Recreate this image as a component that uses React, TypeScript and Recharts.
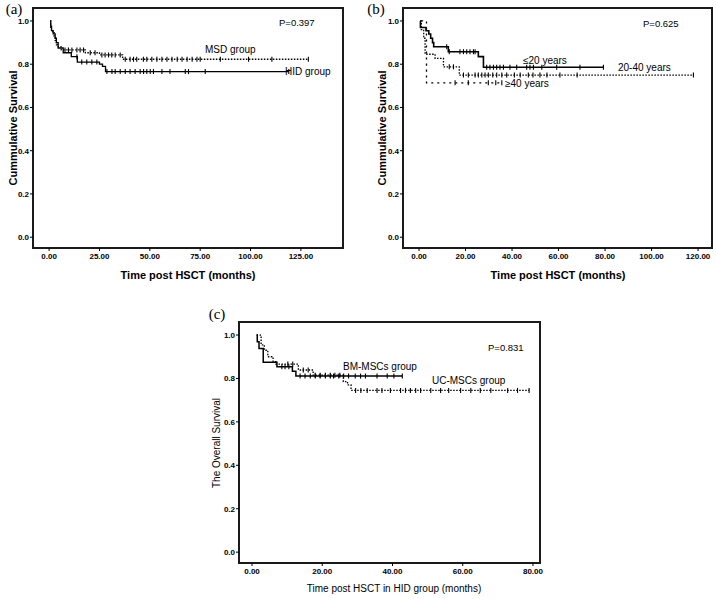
import React from "react"
import { LineChart, Line, XAxis, YAxis, ReferenceArea } from "recharts"

// (a) MSD vs HID
const msdTimes = [0.5, 0.8, 1.2, 1.8, 2.5, 3.0, 3.6, 4.5, 6.0, 18, 25, 36.5]
const msdSurv = [1.0, 0.98, 0.96, 0.95, 0.93, 0.91, 0.89, 0.88, 0.866, 0.853, 0.843, 0.823]
const msdCensor = [7.9, 9.6, 11.3, 13.8, 15.4, 17.1, 20.4, 22.8, 26.2, 27.8, 29.5, 31.1, 32.8, 35.3, 37.8, 40.2, 41.9, 43.5, 46.8, 48.5, 51, 53.5, 56, 58.5, 61, 63.6, 66, 68.5, 71, 73.4, 75, 85, 99, 110.6, 128.7]
const hidTimes = [0.5, 0.8, 1.2, 2.0, 3.0, 3.6, 4.5, 7, 11, 14, 25, 26.5, 28]
const hidSurv = [1.0, 0.97, 0.955, 0.94, 0.92, 0.9, 0.875, 0.853, 0.835, 0.81, 0.8, 0.79, 0.766]
const hidCensor = [13.8, 16.2, 18.7, 21.2, 23.7, 28.7, 31.2, 32.8, 35.3, 37.8, 40.2, 42.7, 45.2, 46.9, 48.5, 50.2, 51.8, 56, 60, 67.6, 69.2, 77.5, 119]
const ticksA = [0, 25, 50, 75, 100, 125]

// (b) age groups
const le20Times = [0.4, 0.6, 3.0, 4.2, 5.0, 5.8, 6.3, 12.6, 25.5, 27.7]
const le20Surv = [1.0, 0.97, 0.955, 0.94, 0.92, 0.9, 0.881, 0.858, 0.835, 0.786]
const le20Censor = [11.9, 13, 17.6, 19.1, 20.5, 21.9, 23.4, 24.1, 29.1, 30.5, 32, 33.4, 34.8, 36.3, 39.1, 42, 46.3, 47.7, 49.2, 52.8, 59.2, 69.2, 79.3]
const mid40Times = [0.6, 1.0, 2.0, 2.6, 6.9, 10.5, 17.3]
const mid40Surv = [1.0, 0.96, 0.92, 0.846, 0.827, 0.788, 0.75]
const mid40Censor = [13, 14.8, 19.1, 21.2, 24.1, 25.5, 27, 28.4, 29.8, 31.7, 33.4, 35.6, 37.7, 41, 43.5, 47, 49, 52, 55, 60.6, 68, 118]
const ge40Times = [0.9, 3.2]
const ge40Surv = [1.0, 0.714]
const ge40Censor = [15.5, 21.2, 29.8, 33, 35.6]
const ticksB = [0, 20, 40, 60, 80, 100, 120]

// (c) MSC source in HID group
const bmTimes = [1.3, 1.5, 2.0, 3.2, 7.1, 11.5, 12.5]
const bmSurv = [1.0, 0.969, 0.938, 0.875, 0.854, 0.833, 0.811]
const bmCensor = [8.5, 9.4, 10.5, 13.7, 15.1, 16.6, 18, 19.4, 20.9, 22.3, 23.2, 24.7, 26.1, 27.5, 29.4, 30.9, 32.3, 35.6, 38.5, 40.4, 42.8]
const ucTimes = [1.3, 2.6, 3.5, 4.5, 6.0, 6.8, 13.2, 17.4, 26, 27.2, 28.2]
const ucSurv = [1.0, 0.955, 0.93, 0.9, 0.877, 0.866, 0.839, 0.815, 0.785, 0.77, 0.745]
const ucCensor = [10.2, 11.6, 14.6, 16, 18, 19.4, 20.9, 22.3, 23.6, 25, 29.5, 31, 32.8, 35.6, 37, 39.4, 42.3, 43.7, 45.1, 46.6, 48, 50.9, 53.7, 56, 59.4, 62.3, 65, 68, 72.8, 75.6, 78.9]
const ticksC = [0, 20, 40, 60, 80]

const survTicks = [0, 0.2, 0.4, 0.6, 0.8, 1.0]
const yDom: [number, number] = [-0.05, 1.06]

function km(times: number[], surv: number[], cens: number[]) {
  const pts = times.map((t, i) => ({ t, s: surv[i], c: false }))
  cens.forEach((t) => {
    let s = surv[0]
    times.forEach((et, i) => {
      if (et <= t) s = surv[i]
    })
    pts.push({ t, s, c: true })
  })
  pts.sort((a, b) => a.t - b.t || (a.c ? 1 : -1))
  return pts
}

const censorDot = (props: any) => {
  const { cx, cy, payload, index } = props
  if (!payload || !payload.c) return <g key={"d" + index} />
  return <line key={"d" + index} x1={cx} x2={cx} y1={cy - 2.5} y2={cy + 2.5} stroke="#000" strokeWidth={1.1} />
}

const tickStyle = { fontSize: 8, fontWeight: 700, fill: "#000" }

function Panel({ width, height, margin, yWidth, xHeight, xDom, xTicks, series }: any) {
  return (
    <LineChart width={width} height={height} margin={margin}>
      <XAxis
        type="number"
        dataKey="t"
        domain={xDom}
        ticks={xTicks}
        allowDataOverflow
        tickFormatter={(v: number) => v.toFixed(2)}
        tick={tickStyle}
        axisLine={false}
        tickLine={{ stroke: "#000" }}
        tickSize={3}
        height={xHeight}
      />
      <YAxis
        type="number"
        dataKey="s"
        domain={yDom}
        ticks={survTicks}
        allowDataOverflow
        tickFormatter={(v: number) => v.toFixed(1)}
        tick={tickStyle}
        axisLine={false}
        tickLine={{ stroke: "#000" }}
        tickSize={3}
        tickMargin={1}
        width={yWidth}
      />
      <ReferenceArea x1={xDom[0]} x2={xDom[1]} y1={yDom[0]} y2={yDom[1]} fill="none" stroke="#1a1a1a" strokeWidth={2} ifOverflow="visible" />
      {series.map((sr: any, i: number) => (
        <Line
          key={i}
          data={sr.data}
          dataKey="s"
          type="stepAfter"
          stroke="#000"
          strokeWidth={sr.w || 1.3}
          strokeDasharray={sr.dash}
          dot={censorDot}
          activeDot={false}
          isAnimationActive={false}
        />
      ))}
    </LineChart>
  )
}

function Txt({ x, y, children, size = 10, weight = 400, anchor = "start", rotate = false, serif = false }: any) {
  let transform = anchor === "middle" ? "translate(-50%,-50%)" : "translate(0,-50%)"
  if (rotate) transform = "translate(-50%,-50%) rotate(-90deg)"
  return (
    <div
      style={{
        position: "absolute",
        left: x,
        top: y,
        transform,
        fontSize: size,
        fontWeight: weight,
        lineHeight: 1,
        whiteSpace: "nowrap",
        fontFamily: serif ? "'Liberation Serif', 'DejaVu Serif', serif" : "'Liberation Sans', Arial, sans-serif",
        color: "#000",
      }}
    >
      {children}
    </div>
  )
}

export default function App() {
  const seriesA = [
    { data: km(msdTimes, msdSurv, msdCensor), dash: "1.5 1.5" },
    { data: km(hidTimes, hidSurv, hidCensor) },
  ]
  const seriesB = [
    { data: km(le20Times, le20Surv, le20Censor), w: 1.6 },
    { data: km(mid40Times, mid40Surv, mid40Censor), dash: "1.5 1.5" },
    { data: km(ge40Times, ge40Surv, ge40Censor), dash: "2 4" },
  ]
  const seriesC = [
    { data: km(bmTimes, bmSurv, bmCensor), w: 1.5 },
    { data: km(ucTimes, ucSurv, ucCensor), dash: "1.5 1.5" },
  ]
  return (
    <div style={{ position: "absolute", left: 0, top: 0, width: 716, height: 599, background: "#fff", fontFamily: "'Liberation Sans', Arial, sans-serif" }}>
      <div style={{ position: "absolute", left: 0, top: 0 }}>
        <Panel width={358} height={290} margin={{ top: 8, right: 15, bottom: 0, left: 0 }} yWidth={33} xHeight={42} xDom={[-8, 145.9]} xTicks={ticksA} series={seriesA} />
      </div>
      <div style={{ position: "absolute", left: 360, top: 0 }}>
        <Panel width={356} height={290} margin={{ top: 8, right: 4, bottom: 0, left: 0 }} yWidth={43} xHeight={42} xDom={[-6.9, 126]} xTicks={ticksB} series={seriesB} />
      </div>
      <div style={{ position: "absolute", left: 200, top: 290 }}>
        <Panel width={345} height={309} margin={{ top: 32, right: 5, bottom: 0, left: 0 }} yWidth={39} xHeight={36} xDom={[-3.7, 82]} xTicks={ticksC} series={seriesC} />
      </div>

      <Txt x={14} y={9} size={15} serif anchor="middle">(a)</Txt>
      <Txt x={376} y={9} size={15} serif anchor="middle">(b)</Txt>
      <Txt x={217} y={314} size={15} serif anchor="middle">(c)</Txt>

      <Txt x={13} y={128} size={11} weight={700} rotate>Cummulative Survival</Txt>
      <Txt x={188} y={275} size={11} weight={700} anchor="middle">Time post HSCT (months)</Txt>
      <Txt x={279} y={23} size={9.5}>P=0.397</Txt>
      <Txt x={205} y={50} size={10}>MSD group</Txt>
      <Txt x={285} y={72} size={10}>HID group</Txt>

      <Txt x={382} y={128} size={11} weight={700} rotate>Cummulative Survival</Txt>
      <Txt x={558} y={275} size={11} weight={700} anchor="middle">Time post HSCT (months)</Txt>
      <Txt x={643} y={24} size={9.5}>P=0.625</Txt>
      <Txt x={523} y={61} size={10}>≤20 years</Txt>
      <Txt x={618} y={68} size={10}>20-40 years</Txt>
      <Txt x={505} y={84} size={10}>≥40 years</Txt>

      <Txt x={217} y={443} size={10} rotate>The Overall Survival</Txt>
      <Txt x={394} y={589} size={10} anchor="middle">Time post HSCT in HID group (months)</Txt>
      <Txt x={488} y={348} size={9.5}>P=0.831</Txt>
      <Txt x={343} y={367} size={10}>BM-MSCs group</Txt>
      <Txt x={432} y={381} size={10}>UC-MSCs group</Txt>
    </div>
  )
}
